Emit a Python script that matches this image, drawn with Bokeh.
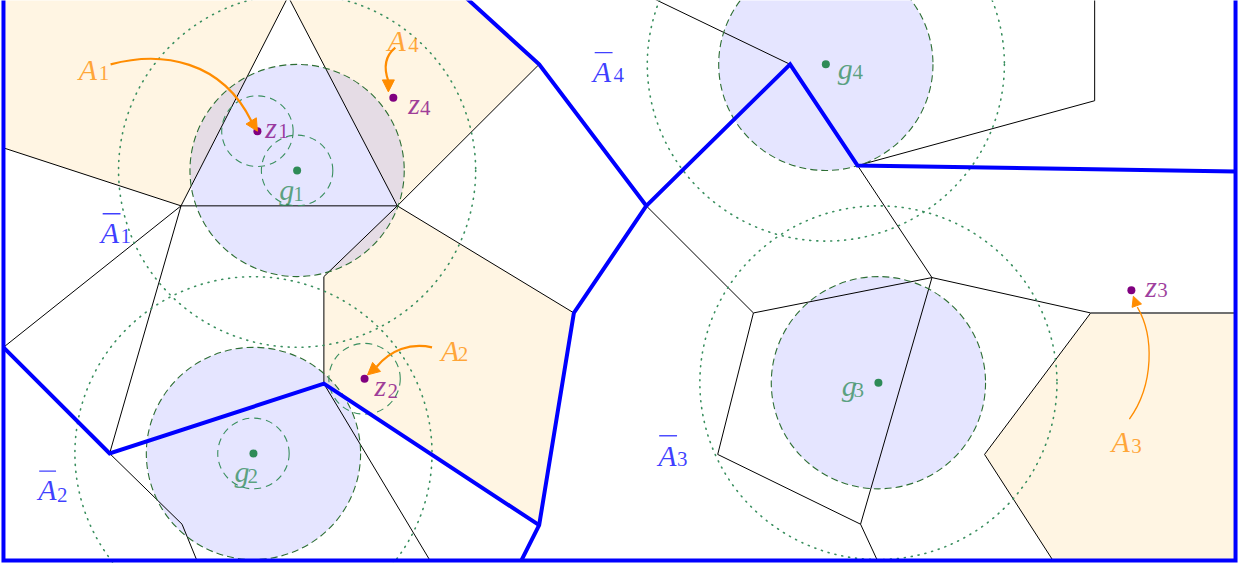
from bokeh.plotting import figure
from bokeh.models import Range1d, ColumnDataSource, Arrow, NormalHead
from bokeh.core.properties import value
from bokeh.embed import file_html
from bokeh.resources import INLINE

# ---------------- data (picture coordinates, y downwards) ----------------
g_x = [301, 257, 887, 834]
g_y = [177, 465, 393, 69]
z_x = [261, 369, 1142, 398]
z_y = [137, 389, 299, 103]

# cream regions A1, A4, A2, A3
region_xs = [[5, 292, 184, 5], [292, 470, 545, 402], [402, 580, 545, 328, 328],
             [1101, 994, 1063, 1247, 1247]]
region_ys = [[0, 0, 213, 154], [0, 0, 69, 213], [213, 322, 538, 394, 285],
             [322, 466, 574, 574, 322]]

# thin black cell edges
edge_xs = [[5, 184], [292, 184, 402, 292], [402, 545], [184, 5], [184, 112], [402, 580],
           [402, 328, 328], [112, 185, 200], [328, 435], [656, 798], [866, 1105, 1105],
           [866, 941], [653, 761], [761, 941, 1101], [761, 725, 869, 886], [941, 869],
           [1101, 994, 1063]]
edge_ys = [[154, 213], [0, 213, 213, 0], [213, 69], [213, 357], [213, 465], [213, 322],
           [213, 285, 394], [465, 537, 574], [394, 574], [0, 69], [172, 106, 0],
           [172, 286], [213, 322], [322, 286, 322], [322, 466, 537, 574], [286, 537],
           [322, 466, 574]]
gray_xs = [[1101, 1247]]
gray_ys = [[322, 322]]

# thick blue boundaries
blue_xs = [[5, 5, 1247, 1247], [470, 545, 653, 580, 545, 527], [653, 798, 866, 1247],
           [5, 112, 328, 545]]
blue_ys = [[-5, 574, 574, -5], [0, 69, 213, 322, 538, 574], [213, 69, 172, 178],
           [357, 465, 394, 538]]

big_r = 108
small_r = 36
far_r = 180
small_cx = [261, 301, 257, 369]
small_cy = [137, 177, 465, 389]

# labels: letter + subscript
lab_letter = ["z", "z", "z", "z", "g", "g", "g", "g", "A", "A", "A", "A", "A", "A", "A", "A"]
lab_sub = ["1", "2", "3", "4", "1", "2", "3", "4", "1", "2", "3", "4", "1", "2", "3", "4"]
lab_kind = ["z"] * 4 + ["g"] * 4 + ["A"] * 4 + ["Abar"] * 4
lab_x = [269, 379, 1156, 413, 283, 238, 850, 846, 81, 446, 1122, 392, 103, 40, 665, 599]
lab_y = [133, 396, 295, 109, 196, 483, 396, 73, 74, 360, 453, 45, 240, 502, 467, 76]
sub_x = [282, 392, 1168, 425, 297, 251, 862, 861, 101, 463, 1142, 413, 123, 59, 684, 620]
sub_y = [137, 401, 299, 113, 201, 488, 400, 77, 78, 364, 457, 49, 244, 507, 471, 80]
bar_x0 = [105, 41, 666, 601]
bar_x1 = [123, 58, 684, 619]
bar_y = [221, 483, 447, 57]

# curved arrows A1, A2, A3, A4
arr_x0 = [113, 437, 1140, 400]
arr_y0 = [69, 357, 430, 52]
arr_cx0 = [165, 415, 1165, 388]
arr_cy0 = [55, 352, 395, 62]
arr_cx1 = [225, 395, 1165, 389]
arr_cy1 = [65, 360, 345, 75]
arr_x1 = [255, 381, 1148, 393]
arr_y1 = [127, 377, 316, 86]
tip_x = [261, 372, 1144, 393]
tip_y = [137, 385, 305, 97]
arr_w = [2.2, 2.2, 1.3, 2.2]
head_size = [12, 12, 10, 12]

# ---------------- styles ----------------
ORANGE = "#FF8C00"
CREAM = "#FFF5E3"
BLUE = "#0000FF"
PURPLE = "#800080"
SEAGREEN = "#2E8B57"
DARKGREEN = "#2D6E34"
kind_color = {"z": PURPLE, "g": SEAGREEN, "A": ORANGE, "Abar": BLUE}

p = figure(width=1239, height=563, x_range=Range1d(2, 1251), y_range=Range1d(577, 4),
           output_backend="svg", toolbar_location=None, min_border=0,
           x_axis_type=None, y_axis_type=None)
p.outline_line_color = None
p.background_fill_color = "white"

# cream regions
p.patches(region_xs, region_ys, fill_color=CREAM, line_color=None)

# lavender discs
p.ellipse(g_x, g_y, width=2 * big_r, height=2 * big_r, fill_color=BLUE, fill_alpha=0.1,
          line_color=None)

# black edges
p.multi_line(edge_xs, edge_ys, line_color="black", line_width=1)
p.multi_line(gray_xs, gray_ys, line_color="#707070", line_width=2)

# dashed outlines
p.ellipse(g_x, g_y, width=2 * big_r, height=2 * big_r, fill_color=None,
          line_color=DARKGREEN, line_width=1.1, line_dash="7 4")
p.ellipse(small_cx, small_cy, width=2 * small_r, height=2 * small_r, fill_color=None,
          line_color="#3A8F5F", line_width=1.1, line_dash="7 5")
# dotted outer circles
p.ellipse(g_x, g_y, width=2 * far_r, height=2 * far_r, fill_color=None,
          line_color="#3A8F5F", line_width=1.6, line_dash="1 6", line_cap="round")

# blue boundaries
p.multi_line(blue_xs, blue_ys, line_color=BLUE, line_width=4, line_join="miter")

# arrows
for i in range(4):
    p.bezier(x0=[arr_x0[i]], y0=[arr_y0[i]], x1=[arr_x1[i]], y1=[arr_y1[i]],
             cx0=[arr_cx0[i]], cy0=[arr_cy0[i]], cx1=[arr_cx1[i]], cy1=[arr_cy1[i]],
             line_color=ORANGE, line_width=arr_w[i])
    p.add_layout(Arrow(end=NormalHead(size=head_size[i], fill_color=ORANGE,
                                      line_color=ORANGE, line_width=1),
                       x_start=arr_x1[i], y_start=arr_y1[i], x_end=tip_x[i], y_end=tip_y[i],
                       line_alpha=0))

# points
p.scatter(z_x, z_y, size=8, fill_color=PURPLE, line_color=None)
p.scatter(g_x, g_y, size=8, fill_color=SEAGREEN, line_color=None)

# labels
cols = [kind_color[k] for k in lab_kind]
src = ColumnDataSource(dict(x=lab_x, y=lab_y, t=lab_letter, sx=sub_x, sy=sub_y, s=lab_sub,
                            c=cols))
p.text(x="x", y="y", text="t", source=src, text_color="c", text_alpha=0.75,
       text_font=value("Liberation Serif"), text_font_style="italic",
       text_font_size=value("30px"), text_align="left", text_baseline="alphabetic")
p.text(x="sx", y="sy", text="s", source=src, text_color="c", text_alpha=0.75,
       text_font=value("Liberation Serif"), text_font_style="normal",
       text_font_size=value("21px"), text_align="left", text_baseline="alphabetic")
p.segment(x0=bar_x0, y0=bar_y, x1=bar_x1, y1=bar_y, line_color=BLUE, line_alpha=0.75,
          line_width=1.4)

open("out.html", "w").write(file_html(p, INLINE))
